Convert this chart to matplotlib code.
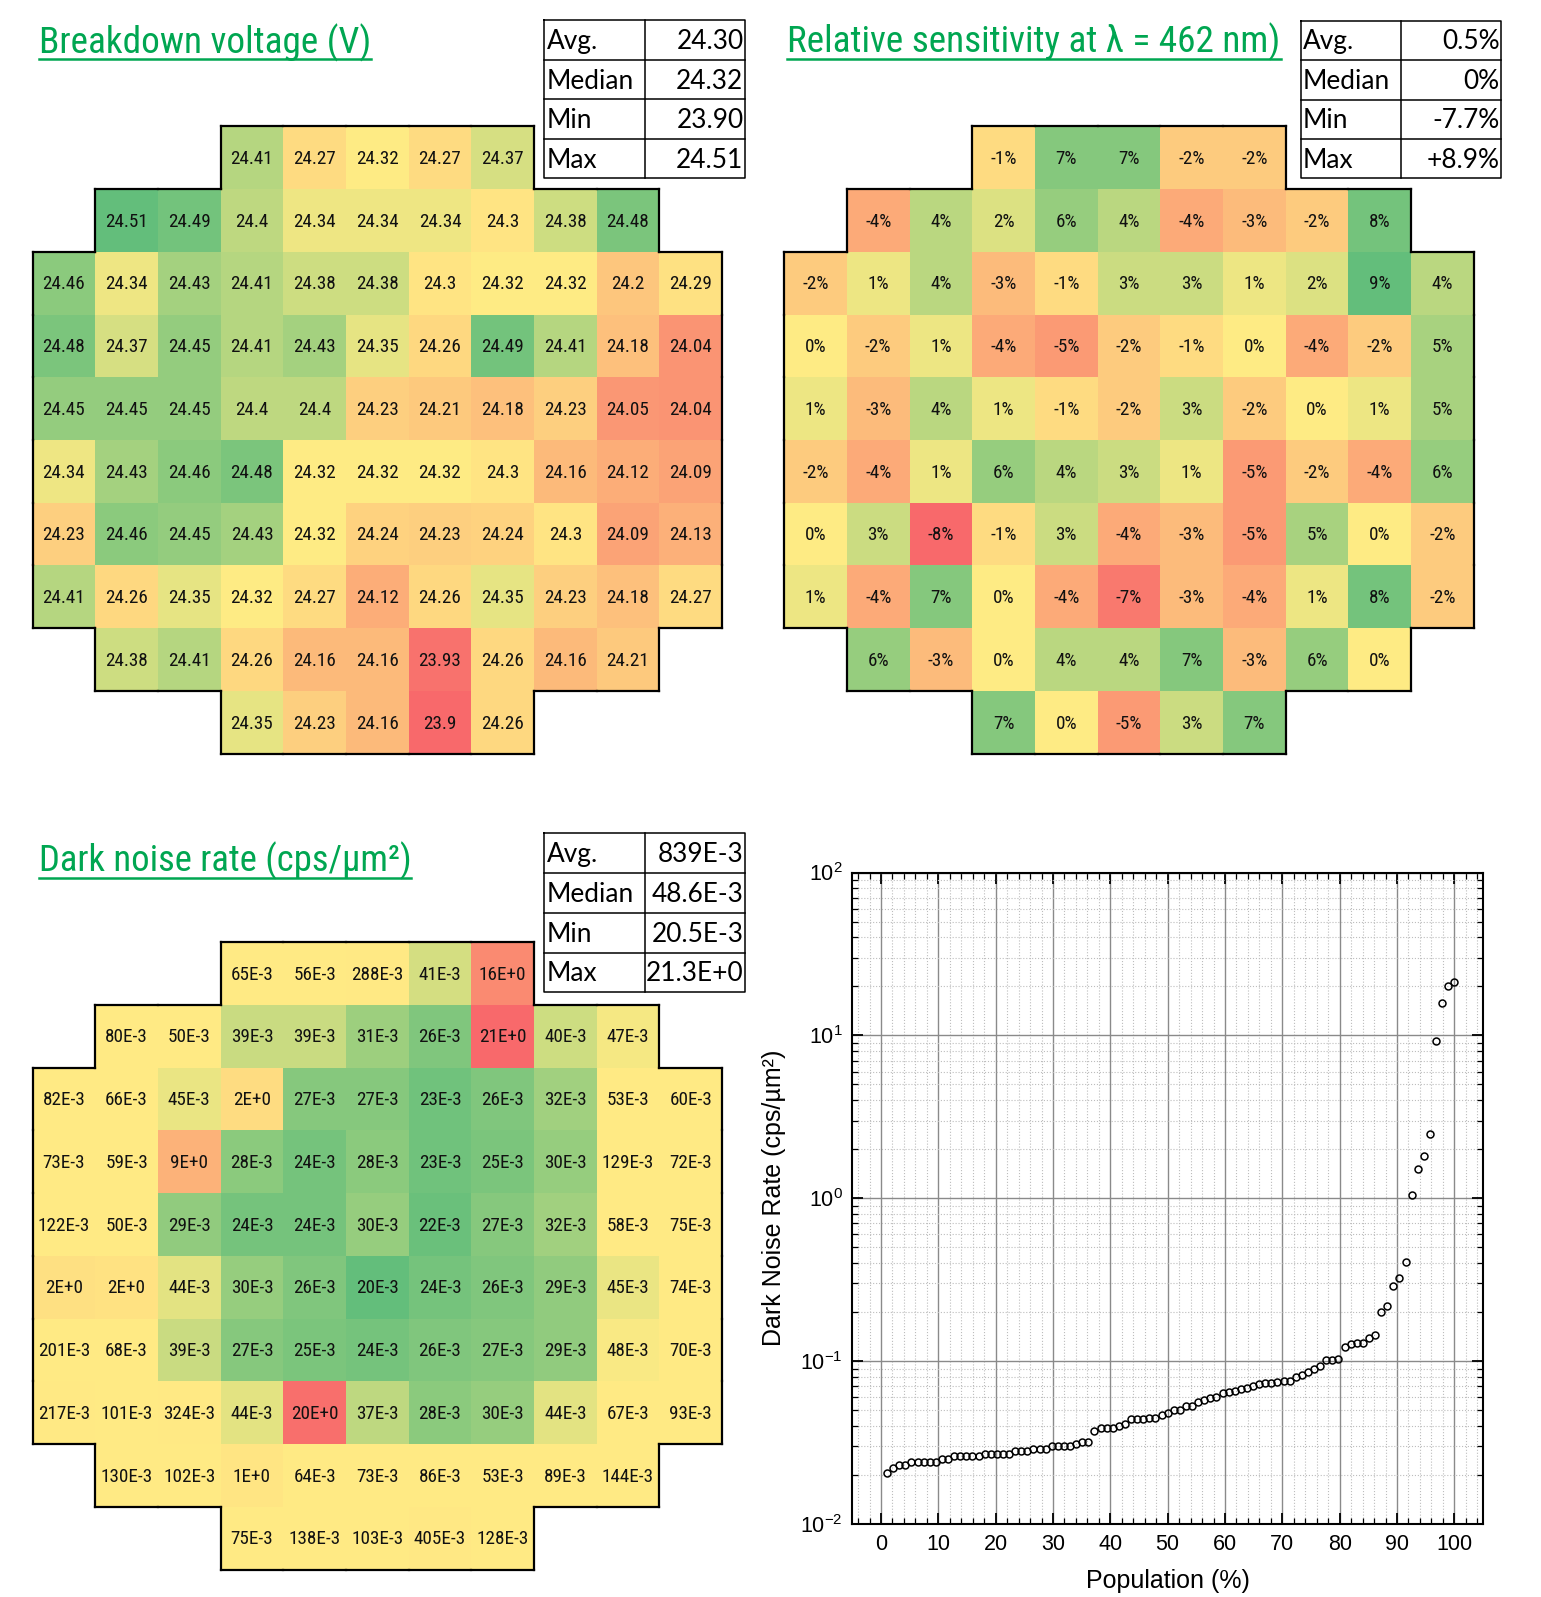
import numpy as np
import matplotlib
matplotlib.use('Agg')
import matplotlib.pyplot as plt
from matplotlib import font_manager as fm
from matplotlib.textpath import TextPath
from matplotlib.colors import LinearSegmentedColormap, TwoSlopeNorm
from matplotlib.collections import LineCollection
from matplotlib.ticker import MultipleLocator, LogLocator, NullFormatter

plt.rcParams['font.family'] = ['Liberation Sans', 'DejaVu Sans']
plt.rcParams['mathtext.default'] = 'regular'
plt.rcParams['axes.unicode_minus'] = False

W, H = 1541, 1597

# wafer layout: first column of each row (11 x 10 grid)
row_start = [3, 1, 0, 0, 0, 0, 0, 0, 1, 3]

breakdown = [
    [24.41, 24.27, 24.32, 24.27, 24.37],
    [24.51, 24.49, 24.4, 24.34, 24.34, 24.34, 24.3, 24.38, 24.48],
    [24.46, 24.34, 24.43, 24.41, 24.38, 24.38, 24.3, 24.32, 24.32, 24.2, 24.29],
    [24.48, 24.37, 24.45, 24.41, 24.43, 24.35, 24.26, 24.49, 24.41, 24.18, 24.04],
    [24.45, 24.45, 24.45, 24.4, 24.4, 24.23, 24.21, 24.18, 24.23, 24.05, 24.04],
    [24.34, 24.43, 24.46, 24.48, 24.32, 24.32, 24.32, 24.3, 24.16, 24.12, 24.09],
    [24.23, 24.46, 24.45, 24.43, 24.32, 24.24, 24.23, 24.24, 24.3, 24.09, 24.13],
    [24.41, 24.26, 24.35, 24.32, 24.27, 24.12, 24.26, 24.35, 24.23, 24.18, 24.27],
    [24.38, 24.41, 24.26, 24.16, 24.16, 23.93, 24.26, 24.16, 24.21],
    [24.35, 24.23, 24.16, 23.9, 24.26],
]

sensitivity = [
    [-1, 7, 7, -2, -2],
    [-4, 4, 2, 6, 4, -4, -3, -2, 8],
    [-2, 1, 4, -3, -1, 3, 3, 1, 2, 9, 4],
    [0, -2, 1, -4, -5, -2, -1, 0, -4, -2, 5],
    [1, -3, 4, 1, -1, -2, 3, -2, 0, 1, 5],
    [-2, -4, 1, 6, 4, 3, 1, -5, -2, -4, 6],
    [0, 3, -8, -1, 3, -4, -3, -5, 5, 0, -2],
    [1, -4, 7, 0, -4, -7, -3, -4, 1, 8, -2],
    [6, -3, 0, 4, 4, 7, -3, 6, 0],
    [7, 0, -5, 3, 7],
]

# cps/um2
dark_noise = [
    [0.065, 0.056, 0.288, 0.041, 15.9],
    [0.080, 0.050, 0.039, 0.039, 0.031, 0.026, 21.3, 0.040, 0.047],
    [0.082, 0.066, 0.045, 2.49, 0.027, 0.027, 0.023, 0.026, 0.032, 0.053, 0.060],
    [0.073, 0.059, 9.3, 0.028, 0.024, 0.028, 0.023, 0.025, 0.030, 0.129, 0.072],
    [0.122, 0.050, 0.029, 0.024, 0.024, 0.030, 0.022, 0.027, 0.032, 0.058, 0.075],
    [1.83, 1.51, 0.044, 0.030, 0.026, 0.0205, 0.024, 0.026, 0.029, 0.045, 0.074],
    [0.201, 0.068, 0.039, 0.027, 0.025, 0.024, 0.026, 0.027, 0.029, 0.048, 0.070],
    [0.217, 0.101, 0.324, 0.044, 20.2, 0.037, 0.028, 0.030, 0.044, 0.067, 0.093],
    [0.130, 0.102, 1.04, 0.064, 0.073, 0.086, 0.053, 0.089, 0.144],
    [0.075, 0.138, 0.103, 0.405, 0.128],
]

stat_names = ['Avg.', 'Median', 'Min', 'Max']
bd_stats = ['24.30', '24.32', '23.90', '24.51']
sens_stats = ['0.5%', '0%', '-7.7%', '+8.9%']
dark_stats = ['839E-3', '48.6E-3', '20.5E-3', '21.3E+0']

GREEN, YELLOW, RED = '#63BE7B', '#FFEB84', '#F8696B'
cmap_rg = LinearSegmentedColormap.from_list('ryg', [RED, YELLOW, GREEN])
cmap_gr = LinearSegmentedColormap.from_list('gyr', [GREEN, YELLOW, RED])
TITLE_GREEN = '#00A651'


def candidate_fonts():
    out = [fm.FontProperties(family='Liberation Sans'),
           fm.FontProperties(family='Roboto'),
           fm.FontProperties(family='DejaVu Sans')]
    for f in fm.fontManager.ttflist:
        n = f.fname.lower().replace('sans', '')
        if not ('narrow' in n or 'condensed' in n):
            continue
        if any(k in n for k in ('bold', 'italic', 'oblique', 'light', 'mono', 'serif',
                                'thin', 'medium', 'black', 'cjk')):
            continue
        fp = fm.FontProperties(fname=f.fname)
        # skip fixed-width faces
        wi = TextPath((0, 0), 'iiii', size=100, prop=fp).get_extents().width
        wm = TextPath((0, 0), 'mmmm', size=100, prop=fp).get_extents().width
        if wi > 0.6 * wm:
            continue
        out.append(fp)
    return out


def shape_ratio(fp, s):
    cap = TextPath((0, 0), 'H', size=100, prop=fp).get_extents().height
    wid = TextPath((0, 0), s, size=100, prop=fp).get_extents().width
    return wid / cap


def pick_font(s, ratio):
    return min(candidate_fonts(), key=lambda fp: abs(shape_ratio(fp, s) - ratio))


TITLE_FONT = pick_font('Breakdown voltage (V)', 12.3)
CELL_FONT = TITLE_FONT
TABLE_FONT = fm.FontProperties(family='Lato')

fig = plt.figure(figsize=(W / 100, H / 100), dpi=100)
renderer = fig.canvas.get_renderer()


def fit_size(s, fp, target_px):
    t = fig.text(0, 0, s, fontproperties=fp, size=20)
    w = t.get_window_extent(renderer).width
    t.remove()
    return 20 * target_px / w


CELL_SIZE = fit_size('217E-3', CELL_FONT, 52)
TABLE_SIZE = fit_size('Median', TABLE_FONT, 87)


def px_axes(left, top, right, bottom):
    return fig.add_axes([left / W, 1 - bottom / H, (right - left) / W, (bottom - top) / H])


def to_grid(rows):
    g = np.full((10, 11), np.nan)
    for r, vals in enumerate(rows):
        g[r, row_start[r]:row_start[r] + len(vals)] = vals
    return g


def draw_map(box, rows, cmap, fmt):
    g = to_grid(rows)
    ax = px_axes(*box)
    norm = TwoSlopeNorm(vmin=np.nanmin(g), vcenter=np.nanmedian(g), vmax=np.nanmax(g))
    ax.pcolormesh(np.ma.masked_invalid(g), cmap=cmap, norm=norm,
                  edgecolors='none', antialiased=False)
    ax.set_xlim(0, 11)
    ax.set_ylim(10, 0)
    ax.axis('off')
    valid = ~np.isnan(g)

    def ok(r, c):
        return 0 <= r < 10 and 0 <= c < 11 and valid[r, c]

    segs = []
    for r, c in zip(*np.where(valid)):
        ax.text(c + 0.5, r + 0.52, fmt(g[r, c]), ha='center', va='center',
                fontproperties=CELL_FONT, size=CELL_SIZE, color='#111111')
        if not ok(r - 1, c):
            segs.append([(c, r), (c + 1, r)])
        if not ok(r + 1, c):
            segs.append([(c, r + 1), (c + 1, r + 1)])
        if not ok(r, c - 1):
            segs.append([(c, r), (c, r + 1)])
        if not ok(r, c + 1):
            segs.append([(c + 1, r), (c + 1, r + 1)])
    ax.add_collection(LineCollection(segs, colors='black', linewidths=1.6,
                                     capstyle='projecting', clip_on=False))
    return ax


def fmt_dark(v):
    if v < 1:
        return f'{round(v * 1000):.0f}E-3'
    return f'{round(v):.0f}E+0'


draw_map((32.6, 126.3, 722, 753.7), breakdown, cmap_rg, lambda v: f'{v:g}')
draw_map((784.2, 126.3, 1473.8, 753.7), sensitivity, cmap_rg, lambda v: f'{v:.0f}%')
draw_map((32.6, 942, 722, 1569.5), dark_noise, cmap_gr, fmt_dark)

# overlay in pixel coordinates for titles and stats tables
ov = fig.add_axes([0, 0, 1, 1], zorder=-1)
ov.set_xlim(0, W)
ov.set_ylim(H, 0)
ov.axis('off')

titles = []
for x, y, s, width in [(38.8, 53.3, 'Breakdown voltage (V)', 332),
                       (787.4, 52.7, 'Relative sensitivity at λ = 462 nm)', 494),
                       (38.8, 871.7, 'Dark noise rate (cps/µm²)', 373)]:
    t = ov.text(x, y, s, fontproperties=TITLE_FONT, size=fit_size(s, TITLE_FONT, width),
                color=TITLE_GREEN, ha='left', va='baseline')
    titles.append((t, y))


def draw_table(left, div, right, top, bottom, values):
    ys = np.linspace(top, bottom, len(values) + 1)
    ov.plot([left, right, right, left, left], [top, top, bottom, bottom, top],
            color='black', lw=1.1)
    for y in ys[1:-1]:
        ov.plot([left, right], [y, y], color='black', lw=1.1)
    ov.plot([div, div], [top, bottom], color='black', lw=1.1)
    for i, (name, val) in enumerate(zip(stat_names, values)):
        yc = (ys[i] + ys[i + 1]) / 2 + 1.5
        ov.text(left + 2, yc, name, ha='left', va='center',
                fontproperties=TABLE_FONT, size=TABLE_SIZE)
        ov.text(right - 2, yc, val, ha='right', va='center',
                fontproperties=TABLE_FONT, size=TABLE_SIZE)


draw_table(544.5, 645, 745.5, 20.4, 178.3, bd_stats)
draw_table(1300.8, 1401.4, 1501.5, 20.7, 178.3, sens_stats)
draw_table(544.5, 645, 745.5, 833.3, 992.3, dark_stats)

# sorted dark noise distribution
grid_dark = to_grid(dark_noise)
vals = np.sort(grid_dark[~np.isnan(grid_dark)])
pop = np.arange(1, len(vals) + 1) / len(vals) * 100

ax = px_axes(852.3, 872.5, 1483, 1524)
ax.semilogy(pop, vals, 'o', mfc='none', mec='black', ms=5, mew=1.1, zorder=3)
ax.set_xlim(-5, 105)
ax.set_ylim(1e-2, 1e2)
ax.set_xticks(range(0, 101, 10))
ax.xaxis.set_minor_locator(MultipleLocator(2))
ax.yaxis.set_minor_locator(LogLocator(base=10, subs=np.arange(2, 10)))
ax.yaxis.set_minor_formatter(NullFormatter())
ax.grid(which='major', color='#8a8a8a', lw=1.0)
ax.grid(which='minor', color='#bdbdbd', ls=':', lw=0.8)
ax.set_axisbelow(True)
ax.tick_params(which='both', direction='in', top=True, right=True)
ax.tick_params(which='major', length=8, width=1.3, labelsize=15.5, pad=7)
ax.tick_params(which='minor', length=4, width=0.9)
for sp in ax.spines.values():
    sp.set_linewidth(1.5)
ax.set_xlabel('Population (%)', fontsize=18, labelpad=10)
ax.set_ylabel('Dark Noise Rate (cps/µm²)', fontsize=18, labelpad=10)

# underline titles
fig.canvas.draw()
for t, y in titles:
    bb = t.get_window_extent()
    ov.plot([bb.x0, bb.x1], [y + 6, y + 6], color=TITLE_GREEN, lw=1.8)

fig.savefig('out.png', dpi=100)
